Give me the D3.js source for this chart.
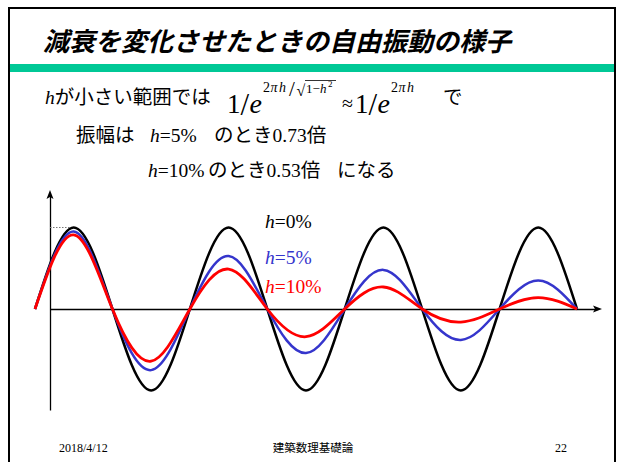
<!DOCTYPE html>
<html><head><meta charset="utf-8">
<script src="https://cdn.jsdelivr.net/npm/d3@7"></script>
<style>body{margin:0;background:#fff;} svg{display:block;}</style>
</head><body>
<script>
// ---- data ----
const phase = [0, 0.25, 0.5, 0.75, 1, 1.25, 1.5, 1.75, 2, 2.25, 2.5, 2.75, 3, 3.25, 3.5]; // cycles
const h0  = [0, 1.00, 0, -1.00, 0, 1.00, 0, -1.00, 0, 1.00, 0, -1.00, 0, 1.00, 0];
const h5  = [0, 0.95, 0, -0.75, 0, 0.65, 0, -0.54, 0, 0.48, 0, -0.38, 0, 0.35, 0];
const h10 = [0, 0.91, 0, -0.64, 0, 0.49, 0, -0.34, 0, 0.27, 0, -0.16, 0, 0.14, 0];
const seriesLabels = ["0%", "5%", "10%"];
const seriesColors = ["#000000", "#3535cc", "#ff0000"];
const title = "減衰を変化させたときの自由振動の様子";
const footerLeft = "2018/4/12", footerCenter = "建築数理基礎論", footerRight = "22";

const W = 619, H = 462;
const SERIF = '"Liberation Serif", serif';
const CJK = '"Noto Sans CJK JP", "Noto Sans CJK SC", sans-serif';

const svg = d3.select("body").append("svg").attr("width", W).attr("height", H);
svg.append("rect").attr("width", W).attr("height", H).attr("fill", "#fff");

// slide frame
svg.append("rect").attr("x", 9).attr("y", 8).attr("width", 606).attr("height", 490)
  .attr("fill", "none").attr("stroke", "#000").attr("stroke-width", 2);

// title + green rule
svg.append("text").style("font-family", CJK).attr("x", 43).attr("y", 51)
  .attr("font-size", 26).attr("font-weight", "bold").attr("font-style", "italic")
  .text(title);
svg.append("rect").attr("x", 10).attr("y", 64).attr("width", 604).attr("height", 8).attr("fill", "#00c896");

function rich(x, y, parts, size) {
  const t = svg.append("text").attr("x", x).attr("y", y).attr("font-size", size || 19);
  parts.forEach(p => {
    const s = t.append("tspan").text(p[0]).style("font-family", p[1] === "cjk" ? CJK : SERIF);
    if (p[2]) s.style("font-style", "italic");
  });
  return t;
}

// line 1
rich(45, 104, [["h", "s", true], ["が小さい範囲では", "cjk"]], 19.5);

// formula 1/e^{2πh/√(1−h²)} ≈ 1/e^{2πh}
const formula = [
  {t: "1", x: 227, y: 113, s: 27},
  {t: "/", x: 240.5, y: 115, s: 31},
  {t: "e", x: 249.5, y: 113, s: 28, i: true},
  {t: "2", x: 263, y: 92, s: 14},
  {t: "π", x: 270.5, y: 92, s: 14, i: true},
  {t: "h", x: 279, y: 92, s: 14, i: true},
  {t: "/", x: 289, y: 96, s: 21},
  {t: "√", x: 296.5, y: 96, s: 16},
  {t: "1−", x: 306, y: 93, s: 13},
  {t: "h", x: 320, y: 93, s: 13, i: true},
  {t: "2", x: 328, y: 87, s: 9},
  {t: "≈", x: 342, y: 110, s: 20},
  {t: "1", x: 355, y: 113, s: 27},
  {t: "/", x: 368.5, y: 115, s: 31},
  {t: "e", x: 377.5, y: 113, s: 28, i: true},
  {t: "2", x: 391, y: 92, s: 14},
  {t: "π", x: 398.5, y: 92, s: 14, i: true},
  {t: "h", x: 407, y: 92, s: 14, i: true}
];
const ft = svg.append("text").style("font-family", SERIF);
formula.forEach(f => {
  const s = ft.append("tspan").attr("x", f.x).attr("y", f.y).attr("font-size", f.s).text(f.t);
  if (f.i) s.style("font-style", "italic");
});
svg.append("line").attr("x1", 305).attr("x2", 336).attr("y1", 80.5).attr("y2", 80.5)
  .attr("stroke", "#000").attr("stroke-width", 0.8);
rich(443, 104, [["で", "cjk"]], 19.5);

// line 2
rich(76, 142, [["振幅は", "cjk"]], 19.5);
rich(150, 142, [["h", "s", true], ["=5%", "s"]], 19.5);
rich(214, 142, [["のとき", "cjk"], ["0.73", "s"], ["倍", "cjk"]], 19.5);
// line 3
rich(148, 177, [["h", "s", true], ["=10%", "s"]], 19.5);
rich(208, 177, [["のとき", "cjk"], ["0.53", "s"], ["倍", "cjk"]], 19.5);
rich(337, 177, [["になる", "cjk"]], 19.5);

// ---- chart ----
const x = d3.scaleLinear().domain([0, 3.5]).range([35, 577]);
const y = d3.scaleLinear().domain([-1, 1]).range([390.5, 227.5]);
const originX = 50;

const xAxisScale = d3.scaleLinear().domain([0, 1]).range([originX, 597]);
const yAxisScale = d3.scaleLinear().domain([0, 1]).range([410, 195]);
const gx = svg.append("g").attr("transform", `translate(0,${y(0)})`)
  .call(d3.axisBottom(xAxisScale).tickValues([]).tickSizeOuter(0));
const gy = svg.append("g").attr("transform", `translate(${originX},0)`)
  .call(d3.axisLeft(yAxisScale).tickValues([]).tickSizeOuter(0));
[gx, gy].forEach(g => g.select(".domain").attr("stroke", "#000").attr("stroke-width", 1.3));
const tipX = 602, tipY = 190, y0 = y(0);
svg.append("path").attr("d", `M${tipX},${y0} L${tipX - 9},${y0 - 3.5} L${tipX - 7},${y0} L${tipX - 9},${y0 + 3.5} Z`).attr("fill", "#000");
svg.append("path").attr("d", `M${originX},${tipY} L${originX - 3.5},${tipY + 9} L${originX},${tipY + 7} L${originX + 3.5},${tipY + 9} Z`).attr("fill", "#000");

svg.append("line").attr("x1", originX).attr("x2", x(phase[1])).attr("y1", y(1)).attr("y2", y(1))
  .attr("stroke", "#777").attr("stroke-width", 1).attr("stroke-dasharray", "1.5,1.5");

const line = d3.line().x(d => x(d[0])).y(d => y(d[1])).curve(d3.curveNatural);
const series = [h0, h5, h10];
const widths = [2.5, 2.5, 2.8];
series.forEach((vals, i) => {
  svg.append("path").datum(phase.map((p, k) => [p, vals[k]]))
    .attr("d", line).attr("fill", "none").attr("stroke", seriesColors[i])
    .attr("stroke-width", widths[i]).attr("stroke-linejoin", "round");
});

const labelY = [228, 264, 293];
seriesLabels.forEach((s, i) => {
  const t = svg.append("text").style("font-family", SERIF).attr("x", 265).attr("y", labelY[i])
    .attr("font-size", 19.5).attr("fill", seriesColors[i]);
  t.append("tspan").style("font-style", "italic").text("h");
  t.append("tspan").text("=" + s);
});

svg.append("text").style("font-family", SERIF).attr("x", 59).attr("y", 452).attr("font-size", 12).text(footerLeft);
svg.append("text").style("font-family", CJK).attr("x", 313).attr("y", 452).attr("text-anchor", "middle").attr("font-size", 11.5).text(footerCenter);
svg.append("text").style("font-family", SERIF).attr("x", 555).attr("y", 452).attr("font-size", 12).text(footerRight);
</script>
</body></html>
